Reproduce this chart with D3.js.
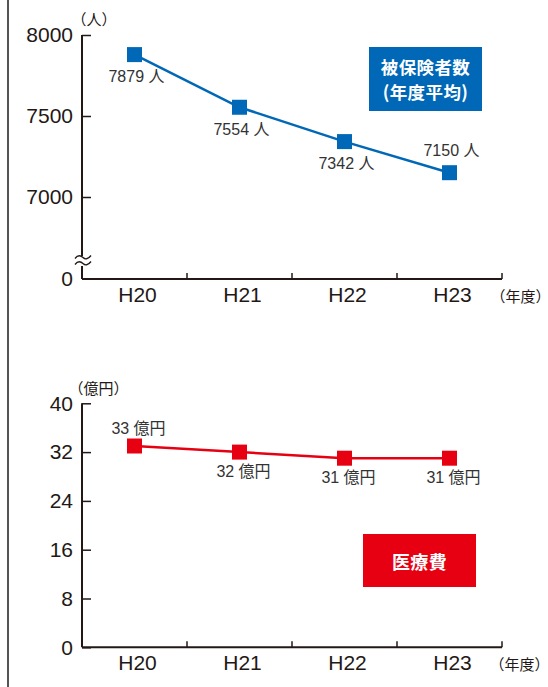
<!DOCTYPE html>
<html>
<head>
<meta charset="utf-8">
<script src="https://cdn.jsdelivr.net/npm/d3@7"></script>
<style>
  html, body { margin: 0; padding: 0; background: #fff; }
  svg { display: block; }
  text { font-family: "Liberation Sans", "Noto Sans CJK JP", sans-serif; }
  .unit { font-feature-settings: "halt" 1; }
</style>
</head>
<body>
<svg id="chart" width="548" height="687"></svg>
<script>
// Fiscal years (Heisei) shared by both panels
const years = ["H20", "H21", "H22", "H23"];

// Insured persons, annual average (people)
const insured = [7879, 7554, 7342, 7150];
const insuredTicks = [7000, 7500, 8000];
const insuredUnit = "人";

// Medical expenses (100 million yen)
const cost = [33, 32, 31, 31];
const costTicks = [0, 8, 16, 24, 32, 40];
const costUnit = "億円";

// Which side of each marker its value label sits on
const insuredLabelSide = ["below", "below", "below", "above"];
const costLabelSide = ["above", "below", "below", "below"];

const BLUE = "#0068b7";
const RED = "#e60012";
const AXIS = "#231815";
const TEXT = "#333";
const CJK = '"Noto Sans CJK JP", sans-serif';

const svg = d3.select("#chart");

// page frame line on the left
svg.append("line")
  .attr("x1", 8).attr("x2", 8).attr("y1", 0).attr("y2", 687)
  .attr("stroke", "#555").attr("stroke-width", 2);

const x = d3.scaleBand().domain(years).range([82, 502]).padding(0);

function unitLabel(g, xPos, yPos, txt) {
  g.append("text")
    .attr("class", "unit")
    .attr("x", xPos).attr("y", yPos)
    .attr("dominant-baseline", "central")
    .attr("font-size", 15).attr("fill", AXIS)
    .style("font-family", CJK)
    .text(txt);
}

function xAxis(g, baseY, unitX) {
  // baseline
  g.append("line")
    .attr("x1", x.range()[0]).attr("x2", x.range()[1])
    .attr("y1", baseY).attr("y2", baseY)
    .attr("stroke", AXIS).attr("stroke-width", 2);
  // boundary ticks between categories (pointing up)
  const bounds = years.slice(1).map(d => x(d)).concat([x.range()[1]]);
  g.selectAll(".bt").data(bounds).join("line")
    .attr("x1", d => d).attr("x2", d => d)
    .attr("y1", baseY).attr("y2", baseY - 6)
    .attr("stroke", AXIS).attr("stroke-width", 1.5);
  // category labels
  const ax = g.append("g")
    .attr("transform", `translate(3,${baseY})`)
    .call(d3.axisBottom(x).tickSize(0).tickPadding(8));
  ax.select(".domain").remove();
  ax.selectAll("text")
    .attr("font-size", 21).attr("fill", AXIS)
    .style("font-family", '"Liberation Sans", sans-serif');
  unitLabel(g, unitX, baseY + 16, "（年度）");
}

function yAxis(g, y, ticks) {
  const ax = g.append("g")
    .attr("transform", "translate(82,0)")
    .call(d3.axisLeft(y).tickValues(ticks).tickSizeInner(-9).tickSizeOuter(0).tickPadding(9).tickFormat(d3.format("d")));
  ax.select(".domain").remove();
  ax.selectAll(".tick line").attr("stroke", AXIS).attr("stroke-width", 1.5);
  ax.selectAll("text")
    .attr("font-size", 21).attr("fill", AXIS)
    .style("font-family", '"Liberation Sans", sans-serif');
  return ax;
}

function series(g, y, values, color, unit, sides, offUp, offDown, dx) {
  const line = d3.line().x((d, i) => x(years[i]) + x.bandwidth() / 2).y(d => y(d));
  g.append("path")
    .datum(values)
    .attr("d", line)
    .attr("fill", "none")
    .attr("stroke", color)
    .attr("stroke-width", 2.5);
  const s = 15;
  g.selectAll(".mk").data(values).join("rect")
    .attr("x", (d, i) => x(years[i]) + x.bandwidth() / 2 - s / 2)
    .attr("y", d => y(d) - s / 2)
    .attr("width", s).attr("height", s)
    .attr("fill", color);
  g.selectAll(".vl").data(values).join("text")
    .attr("x", (d, i) => x(years[i]) + x.bandwidth() / 2 + dx)
    .attr("y", (d, i) => y(d) + (sides[i] === "above" ? -offUp : offDown))
    .attr("text-anchor", "middle")
    .attr("dominant-baseline", "central")
    .attr("font-size", 16)
    .attr("fill", TEXT)
    .text(d => `${d} ${unit}`);
}

function legendBox(g, x0, y0, w, h, color, lines, lineGap, size) {
  g.append("rect").attr("x", x0).attr("y", y0).attr("width", w).attr("height", h).attr("fill", color);
  const cy = y0 + h / 2 - (lines.length - 1) * lineGap / 2;
  lines.forEach((s, i) => {
    g.append("text")
      .attr("x", x0 + w / 2)
      .attr("y", cy + i * lineGap)
      .attr("dominant-baseline", "central")
      .attr("text-anchor", "middle")
      .attr("font-size", size).attr("font-weight", "bold").attr("fill", "#fff")
      .attr("letter-spacing", 0.4)
      .style("font-family", CJK)
      .text(s);
  });
}

// ---------- Panel 1: insured persons ----------
const topG = svg.append("g");
const yTop = d3.scaleLinear().domain([7000, 8000]).range([197, 35]);
const topBase = 279;

// vertical axis line with a break between 7000 and 0
topG.append("line").attr("x1", 82).attr("x2", 82).attr("y1", yTop(8000)).attr("y2", 256)
  .attr("stroke", AXIS).attr("stroke-width", 2);
topG.append("line").attr("x1", 82).attr("x2", 82).attr("y1", 266).attr("y2", topBase)
  .attr("stroke", AXIS).attr("stroke-width", 2);
[257.5, 263.5].forEach(yy => {
  topG.append("path")
    .attr("d", `M75,${yy + 1} C78,${yy - 3} 81,${yy - 2} 83,${yy} S88,${yy + 2} 91,${yy - 2}`)
    .attr("fill", "none").attr("stroke", AXIS).attr("stroke-width", 1.3);
});

yAxis(topG, yTop, insuredTicks);
topG.append("text")
  .attr("x", 73).attr("y", topBase).attr("dy", "0.32em")
  .attr("text-anchor", "end").attr("font-size", 21).attr("fill", AXIS)
  .style("font-family", '"Liberation Sans", sans-serif')
  .text("0");
unitLabel(topG, 79, 18, "（人）");
xAxis(topG, topBase, 498);
series(topG, yTop, insured, BLUE, insuredUnit, insuredLabelSide, 22, 22, 2);
legendBox(topG, 369, 47, 113, 64, BLUE, ["被保険者数", "(年度平均)"], 25.5, 17.5);

// ---------- Panel 2: medical expenses ----------
const botG = svg.append("g");
const yBot = d3.scaleLinear().domain([0, 40]).range([647.3, 403.3]);
botG.append("line").attr("x1", 82).attr("x2", 82).attr("y1", yBot(40)).attr("y2", yBot(0))
  .attr("stroke", AXIS).attr("stroke-width", 2);
yAxis(botG, yBot, costTicks);
unitLabel(botG, 76, 387, "（億円）");
xAxis(botG, yBot(0), 497);
series(botG, yBot, cost, RED, costUnit, costLabelSide, 18, 19, 4);
legendBox(botG, 363, 534, 113, 53, RED, ["医療費"], 22, 18);
</script>
</body>
</html>
